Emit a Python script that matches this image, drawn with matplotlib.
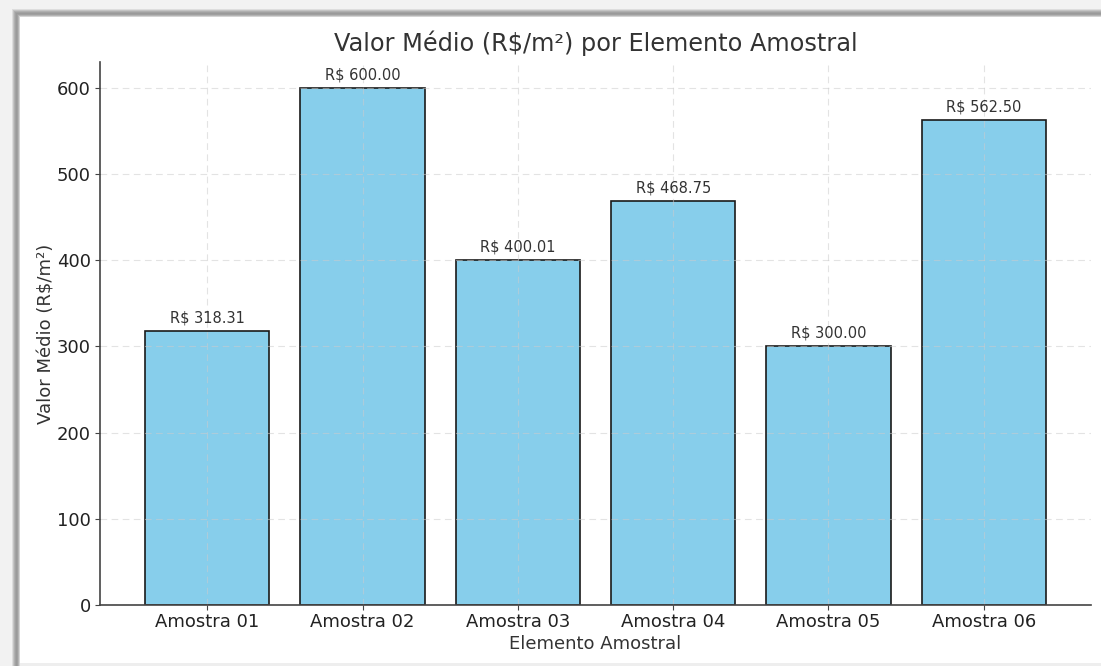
import matplotlib
matplotlib.use("Agg")
import matplotlib.pyplot as plt
from matplotlib.patches import Rectangle

categories = ["Amostra 01", "Amostra 02", "Amostra 03", "Amostra 04", "Amostra 05", "Amostra 06"]
values = [318.31, 600.00, 400.01, 468.75, 300.00, 562.50]
labels = ["R$ 318.31", "R$ 600.00", "R$ 400.01", "R$ 468.75", "R$ 300.00", "R$ 562.50"]

W, H = 1101, 666
fig = plt.figure(figsize=(W / 100, H / 100), dpi=100)
fig.patch.set_facecolor("white")

# screenshot frame shadow (top & left)
def frect(x0, y0, x1, y1, color):
    fig.patches.append(Rectangle((x0 / W, 1 - y1 / H), (x1 - x0) / W, (y1 - y0) / H,
                                 transform=fig.transFigure, facecolor=color,
                                 edgecolor="none", zorder=0))

frect(0, 0, W, 17, "#f2f2f2")
frect(0, 0, 20, H, "#f2f2f2")
grays = ["#dddddd", "#c4c4c4", "#b0b0b0", "#a2a2a2", "#9a9a9a", "#a0a0a0", "#b4b4b4", "#d4d4d4"]
for i, g in enumerate(grays):
    frect(12 + i, 9 + i, W, 10 + i, g)
    frect(12 + i, 9 + i, 13 + i, H, g)
frect(20, 663, W, H, "#eeeeee")

ax = fig.add_axes([100 / W, 1 - 605 / H, (1091 - 100) / W, (605 - 62) / H])
ax.set_facecolor("white")
x = list(range(len(categories)))
bars = ax.bar(x, values, width=0.8, color="#87CEEB", edgecolor="#1a1a1a", linewidth=1.2)
for xi, v, lab in zip(x, values, labels):
    ax.annotate(lab, (xi, v), xytext=(0, 4), textcoords="offset points",
                ha="center", va="bottom", fontsize=10.5, color="#333333")

ax.set_xticks(x)
ax.set_xticklabels(categories, fontsize=13, color="#222222")
ax.set_yticks([0, 100, 200, 300, 400, 500, 600])
ax.tick_params(axis="y", labelsize=13, labelcolor="#222222", color="#444444", pad=3)
ax.tick_params(axis="x", color="#444444", pad=2)
ax.set_xlim(-0.69, 5.69)
ax.set_ylim(0, 630)
ax.grid(True, linestyle=(0, (6, 4)), color="#cccccc", linewidth=0.8, alpha=0.55)
ax.set_axisbelow("line")
for s in ["top", "right"]:
    ax.spines[s].set_visible(False)
for s in ["left", "bottom"]:
    ax.spines[s].set_color("#444444")
    ax.spines[s].set_linewidth(1.2)

ax.set_title("Valor Médio (R$/m²) por Elemento Amostral", fontsize=17.3, color="#333333", pad=8)
ax.set_xlabel("Elemento Amostral", fontsize=13, color="#333333", labelpad=3)
ax.set_ylabel("Valor Médio (R$/m²)", fontsize=13, color="#333333", labelpad=1)

fig.savefig("out.png", dpi=100)
